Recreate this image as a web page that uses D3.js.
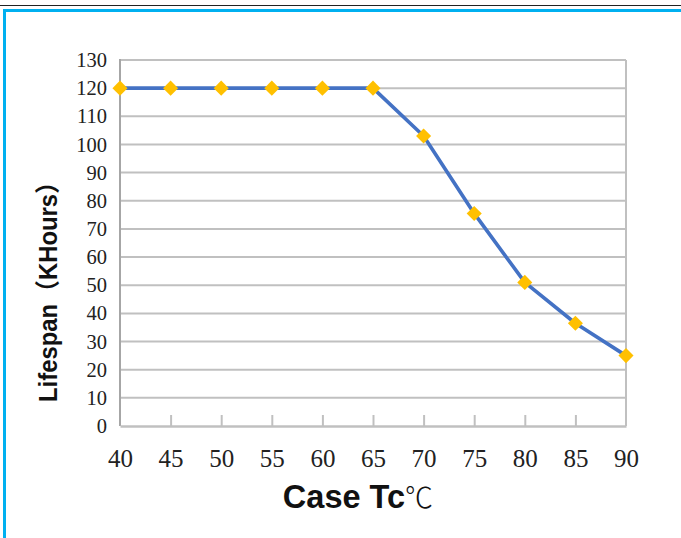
<!DOCTYPE html>
<html>
<head>
<meta charset="utf-8">
<script src="https://cdn.jsdelivr.net/npm/d3@7"></script>
<style>
  html, body { margin: 0; padding: 0; background: #fff; }
  svg { display: block; }
</style>
</head>
<body>
<div id="chart"></div>
<script>
// Case temperature (°C) vs lifespan (KHours)
const temps = [40, 45, 50, 55, 60, 65, 70, 75, 80, 85, 90];
const lifespan = [120, 120, 120, 120, 120, 120, 103, 75.5, 51, 36.5, 25];
const yTicks = [0, 10, 20, 30, 40, 50, 60, 70, 80, 90, 100, 110, 120, 130];

const width = 681, height = 538;
const margin = { top: 60, right: 55, bottom: 112, left: 120 };

const svg = d3.select("#chart").append("svg")
    .attr("width", width)
    .attr("height", height);

// frame: thin black line + cyan border
svg.append("line")
    .attr("x1", 0).attr("x2", width)
    .attr("y1", 5.5).attr("y2", 5.5)
    .attr("stroke", "#222").attr("stroke-width", 1);
svg.append("path")
    .attr("d", `M${width},10.5 H4.5 V${height}`)
    .attr("fill", "none")
    .attr("stroke", "#00B0F0")
    .attr("stroke-width", 3);

const x = d3.scaleLinear()
    .domain([40, 90])
    .range([margin.left, width - margin.right]);

const y = d3.scaleLinear()
    .domain([0, 130])
    .range([height - margin.bottom, margin.top]);

const gridColor = "#c0c0c0";

// horizontal gridlines
svg.append("g")
    .selectAll("line")
    .data(yTicks.filter(d => d > 0))
    .join("line")
    .attr("x1", x(40)).attr("x2", x(90))
    .attr("y1", d => y(d)).attr("y2", d => y(d))
    .attr("stroke", gridColor)
    .attr("stroke-width", 2);

// right border gridline
svg.append("line")
    .attr("x1", x(90)).attr("x2", x(90))
    .attr("y1", y(130)).attr("y2", y(0))
    .attr("stroke", gridColor).attr("stroke-width", 2);

// left axis line
svg.append("line")
    .attr("x1", x(40)).attr("x2", x(40))
    .attr("y1", y(130) - 1).attr("y2", y(0))
    .attr("stroke", "#a6a6a6").attr("stroke-width", 2);

// bottom axis with inward ticks
const xAxis = d3.axisBottom(x)
    .tickValues(temps)
    .tickSize(-11)
    .tickSizeOuter(0)
    .tickPadding(30)
    .tickFormat(d3.format("d"));

const gx = svg.append("g")
    .attr("transform", `translate(0,${y(0)})`)
    .call(xAxis);
gx.select(".domain").attr("stroke", gridColor).attr("stroke-width", 2.5);
gx.selectAll(".tick line").attr("stroke", gridColor).attr("stroke-width", 2);
gx.selectAll(".tick").filter(d => d === 40 || d === 90).select("line").remove();
gx.selectAll(".tick text")
    .attr("font-family", "'Liberation Serif', 'DejaVu Serif', serif")
    .attr("font-size", 25)
    .attr("fill", "#222")
    .attr("dy", "0.45em");

// y tick labels
const yAxis = d3.axisLeft(y)
    .tickValues(yTicks)
    .tickSize(0)
    .tickPadding(13)
    .tickFormat(d3.format("d"));

const gy = svg.append("g")
    .attr("transform", `translate(${x(40)},0)`)
    .call(yAxis);
gy.select(".domain").remove();
gy.selectAll(".tick text")
    .attr("font-family", "'Liberation Serif', 'DejaVu Serif', serif")
    .attr("font-size", 20.5)
    .attr("fill", "#222");

// series line
const line = d3.line()
    .x((d, i) => x(temps[i]))
    .y(d => y(d));

svg.append("path")
    .datum(lifespan)
    .attr("d", line)
    .attr("fill", "none")
    .attr("stroke", "#4472C4")
    .attr("stroke-width", 3.6)
    .attr("stroke-linejoin", "round");

// diamond markers
const diamond = d3.symbol().type(d3.symbolDiamond2).size(145);
svg.append("g")
    .selectAll("path")
    .data(lifespan)
    .join("path")
    .attr("transform", (d, i) => `translate(${x(temps[i])},${y(d)})`)
    .attr("d", diamond)
    .attr("fill", "#FFC000");

// axis titles
svg.append("text")
    .attr("transform", `translate(57,286) rotate(-90)`)
    .attr("text-anchor", "middle")
    .attr("font-family", "'Liberation Sans', Arial, 'Noto Sans CJK SC', sans-serif")
    .attr("font-weight", "bold")
    .attr("font-size", 25)
    .attr("textLength", 232)
    .attr("lengthAdjust", "spacingAndGlyphs")
    .attr("fill", "#111")
    .text("Lifespan（KHours）");

const xt = svg.append("text")
    .attr("x", 358)
    .attr("y", 508)
    .attr("text-anchor", "middle")
    .attr("font-family", "'Liberation Sans', Arial, sans-serif")
    .attr("font-weight", "bold")
    .attr("font-size", 32.5)
    .attr("fill", "#111");
xt.append("tspan").text("Case Tc");
xt.append("tspan")
    .attr("font-family", "'Noto Sans CJK SC', sans-serif")
    .attr("font-weight", 300)
    .attr("font-size", 28)
    .text("℃");
</script>
</body>
</html>
